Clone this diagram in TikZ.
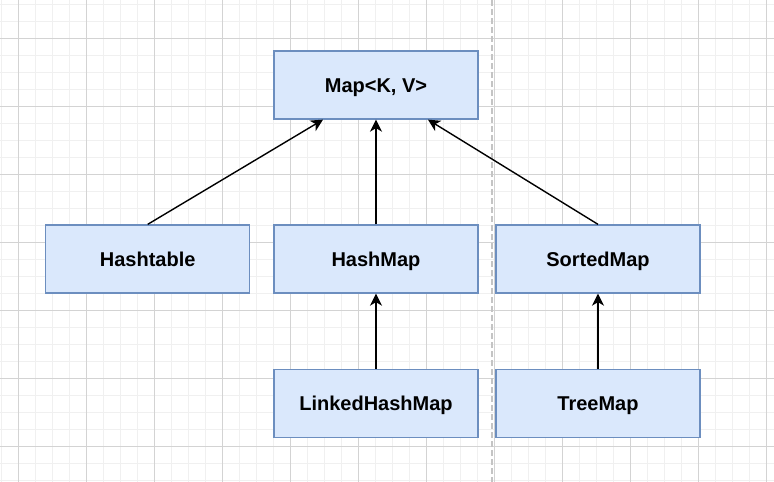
\documentclass[tikz,border=0pt]{standalone}
\usepackage{fontspec}
\setmainfont{Liberation Sans}
\usetikzlibrary{arrows.meta}
\definecolor{boxfill}{HTML}{DAE8FC}
\definecolor{boxline}{HTML}{6C8EBF}
\definecolor{minorgrid}{HTML}{F0F0F0}
\definecolor{majorgrid}{HTML}{D3D3D3}
\definecolor{sepline}{HTML}{C4C4C4}
\tikzset{
  cls/.style={draw=boxline, fill=boxfill, line width=1.3pt, minimum width=204pt, minimum height=68pt,
    inner sep=0pt, font=\fontsize{20pt}{22pt}\selectfont\bfseries, text depth=0pt, text height=14pt},
  inh/.style={draw=black, line width=1.4pt, -{Stealth[length=12pt,width=12pt,inset=3.5pt]}},
}
\begin{document}
\begin{tikzpicture}[x=1pt,y=-1pt]
\useasboundingbox (0,0) rectangle (774,482);
\fill[white] (0,0) rectangle (774,482);
% minor grid
\foreach \i in {0,...,46} {\draw[minorgrid, line width=1pt] (1.3+17*\i,0) -- (1.3+17*\i,482);}
\foreach \j in {0,...,28} {\draw[minorgrid, line width=1pt] (0,4.3+17*\j) -- (774,4.3+17*\j);}
% major grid
\foreach \i in {0,...,11} {\draw[majorgrid, line width=1pt] (18.3+68*\i,0) -- (18.3+68*\i,482);}
\foreach \j in {0,...,6} {\draw[majorgrid, line width=1pt] (0,38.3+68*\j) -- (774,38.3+68*\j);}
% separator
\coordinate (septop) at (491.7,0);
\coordinate (sepbot) at (491.7,482);
\draw[sepline, line width=1.8pt, dash pattern=on 6pt off 3pt] (septop) -- (sepbot);
% nodes
\node[cls] (map) at (376,85) {Map<K, V>};
\node[cls] (hashtable) at (147.7,259) {Hashtable};
\node[cls] (hashmap) at (376,259) {HashMap};
\node[cls] (sortedmap) at (598,259) {SortedMap};
\node[cls] (linked) at (376,403.3) {LinkedHashMap};
\node[cls] (treemap) at (598,403.3) {TreeMap};
% connectors
\draw[inh] (hashtable.north) -- ([xshift=-53pt]map.south);
\draw[inh] (hashmap.north) -- (map.south);
\draw[inh] (sortedmap.north) -- ([xshift=52pt]map.south);
\draw[inh] (linked.north) -- (hashmap.south);
\draw[inh] (treemap.north) -- (sortedmap.south);
\end{tikzpicture}
\end{document}
